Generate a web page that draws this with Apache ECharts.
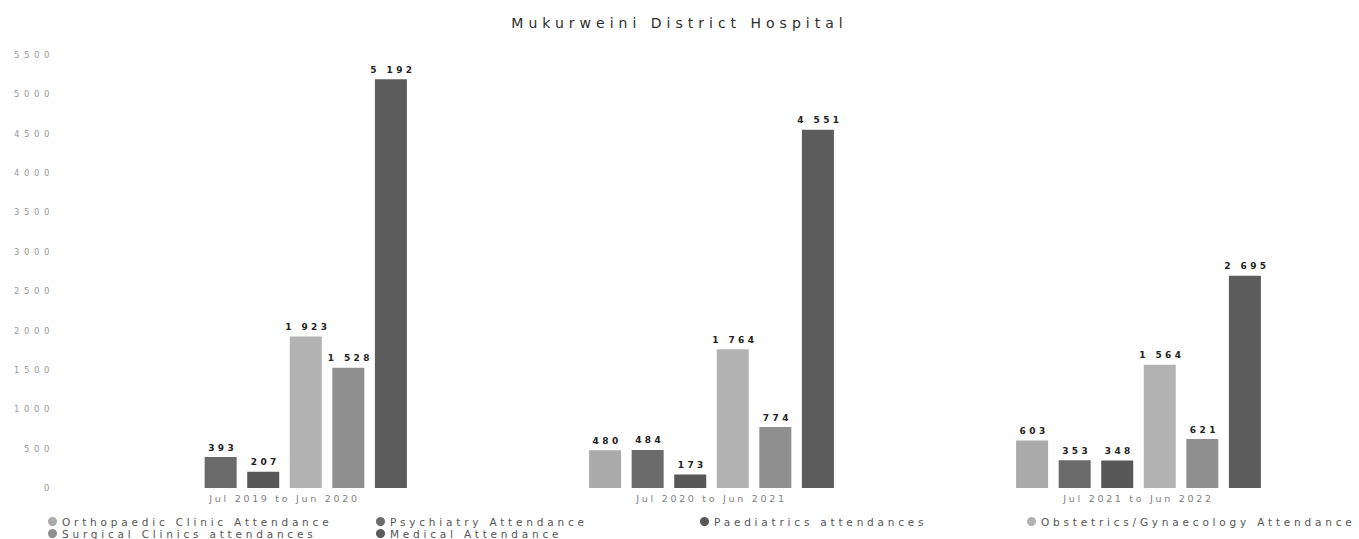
<!DOCTYPE html>
<html>
<head>
<meta charset="utf-8">
<script src="https://cdn.jsdelivr.net/npm/echarts@6/dist/echarts.min.js"></script>
<style>
  html, body { margin: 0; padding: 0; background: #fff; }
  #main { width: 1359px; height: 539px; }
</style>
</head>
<body>
<div id="main"></div>
<script>
// svg renderer so the wide letter spacing of the original can be set on the text nodes
var myChart = echarts.init(document.getElementById('main'), null, { renderer: 'svg' });

// data
var categories = ['Jul 2019 to Jun 2020', 'Jul 2020 to Jun 2021', 'Jul 2021 to Jun 2022'];
var seriesNames = [
    'Orthopaedic Clinic Attendance',
    'Psychiatry Attendance',
    'Paediatrics attendances',
    'Obstetrics/Gynaecology Attendance',
    'Surgical Clinics attendances',
    'Medical Attendance'
];
var orthopaedic = [null, 480, 603];
var psychiatry = [393, 484, 353];
var paediatrics = [207, 173, 348];
var obstetrics = [1923, 1764, 1564];
var surgical = [1528, 774, 621];
var medical = [5192, 4551, 2695];
var allValues = [orthopaedic, psychiatry, paediatrics, obstetrics, surgical, medical];

var colors = ['#ababab', '#6b6b6b', '#585858', '#b2b2b2', '#8f8f8f', '#5c5c5c'];

var font = 'DejaVu Sans';

// font size -> letter spacing (px)
var spacing = { '14px': 5, '10.5px': 3.8, '9.5px': 2.7, '8.5px': 4.6, '9px': 3.4 };

function fmt(v) {
    return String(v).replace(/\B(?=(\d{3})+(?!\d))/g, ' ');
}

var series = seriesNames.map(function (name, i) {
    return {
        name: name,
        type: 'bar',
        data: allValues[i],
        barWidth: 32,
        barGap: '33%',
        itemStyle: { color: colors[i] },
        label: {
            show: true,
            position: 'top',
            distance: 5,
            offset: [2, 0],
            fontFamily: font,
            fontWeight: 'bold',
            fontSize: 9,
            color: '#222',
            formatter: function (p) { return fmt(p.value); }
        }
    };
});

// legend laid out in fixed columns, one legend per item
var legendPos = [
    [48, 516], [376, 516], [700, 516], [1027, 516],
    [48, 528], [376, 528]
];
var legends = seriesNames.map(function (name, i) {
    return {
        data: [name],
        left: legendPos[i][0],
        top: legendPos[i][1],
        icon: 'circle',
        itemWidth: 9,
        itemHeight: 9,
        itemGap: 0,
        padding: 0,
        textStyle: { fontFamily: font, fontSize: 10.5, color: '#555' }
    };
});

var option = {
    animation: false,
    color: colors,
    title: {
        text: 'Mukurweini District Hospital',
        left: 'center',
        top: 11,
        padding: [5, 0, 5, 19],
        textStyle: { fontFamily: font, fontSize: 14, fontWeight: 'normal', color: '#2e2e2e' }
    },
    legend: legends,
    grid: { left: 71, right: 7, top: 55, bottom: 51, containLabel: false },
    xAxis: {
        type: 'category',
        data: categories,
        axisLine: { show: false },
        axisTick: { show: false },
        axisLabel: { fontFamily: font, fontSize: 9.5, color: '#808080', margin: 5 }
    },
    yAxis: {
        type: 'value',
        min: 0,
        max: 5500,
        interval: 500,
        splitLine: { show: false },
        axisLine: { show: false },
        axisTick: { show: false },
        axisLabel: {
            fontFamily: font, fontSize: 8.5, color: '#999', margin: 17,
            formatter: function (v) { return String(v); }
        }
    },
    series: series
};

function applySpacing() {
    var texts = document.querySelectorAll('#main svg text');
    for (var i = 0; i < texts.length; i++) {
        var fs = getComputedStyle(texts[i]).fontSize;
        if (spacing[fs] != null) {
            texts[i].style.letterSpacing = spacing[fs] + 'px';
        }
    }
}

myChart.on('finished', applySpacing);
myChart.setOption(option);
applySpacing();
</script>
</body>
</html>
